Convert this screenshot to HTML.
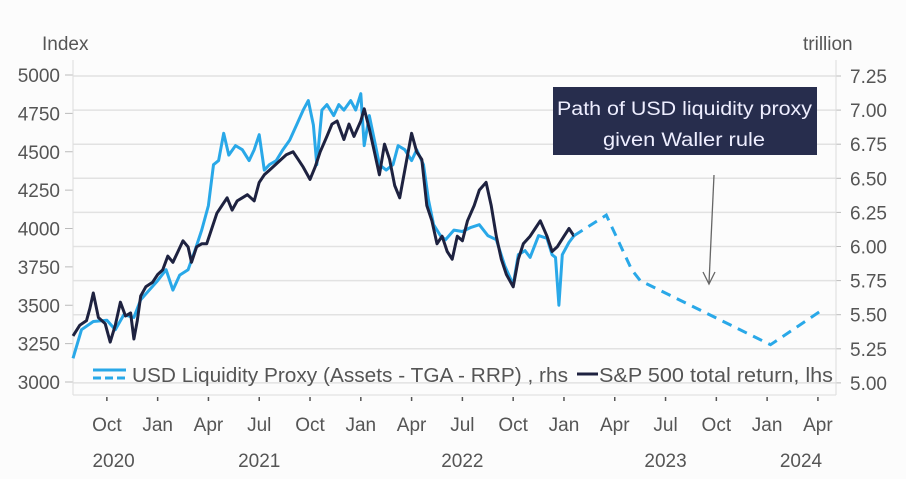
<!DOCTYPE html>
<html><head><meta charset="utf-8"><style>
body{margin:0;background:#fdfdfd;}
svg{display:block;font-family:"Liberation Sans",sans-serif;}
</style></head><body>
<svg id="c" width="906" height="479">
<rect x="0" y="0" width="906" height="479" fill="#fcfcfc"/>
<g id="grid"></g><g id="axes"></g><g id="series"></g>
<text x="42" y="50" font-size="19" fill="#555">Index</text>
<text x="803" y="50" font-size="19" fill="#555">trillion</text>
<g>
<rect x="553" y="87" width="264" height="68" fill="#272d4d"/>
<text x="557" y="115" font-size="19" fill="#eef" textLength="255" lengthAdjust="spacingAndGlyphs">Path of USD liquidity proxy</text>
<text x="603" y="146" font-size="19" fill="#eef" textLength="162" lengthAdjust="spacingAndGlyphs">given Waller rule</text>
<line x1="714" y1="175" x2="709" y2="283" stroke="#666" stroke-width="1.3"/>
<polyline points="703,272 709,284 715,272" fill="none" stroke="#666" stroke-width="1.3"/>
</g>
<g>
<line x1="93" y1="370" x2="126" y2="370" stroke="#29a8e8" stroke-width="3"/>
<line x1="93" y1="378" x2="126" y2="378" stroke="#29a8e8" stroke-width="3" stroke-dasharray="8,4"/>
<text x="132" y="382" font-size="20" fill="#555" textLength="436" lengthAdjust="spacingAndGlyphs">USD Liquidity Proxy (Assets - TGA - RRP) , rhs</text>
<line x1="577" y1="374" x2="598" y2="374" stroke="#1e2240" stroke-width="3"/>
<text x="599" y="382" font-size="20" fill="#555" textLength="234" lengthAdjust="spacingAndGlyphs">S&amp;P 500 total return, lhs</text>
</g>
</svg>
<script>
const leftTicks=[5000,4750,4500,4250,4000,3750,3500,3250,3000];
const rightTicks=["7.25","7.00","6.75","6.50","6.25","6.00","5.75","5.50","5.25","5.00"];
const monthLabels=["Oct","Jan","Apr","Jul","Oct","Jan","Apr","Jul","Oct","Jan","Apr","Jul","Oct","Jan","Apr"];
const monthTickPos=[2,5,8,11,14,17,20,23,26,29,32,35,38,41,44];
const yearLabels=["2020","2021","2022","2023","2024"];
const yearPos=[2.4,11,23,35,43];
const spMonths=[0,0.4,0.8,1.0,1.2,1.5,1.9,2.2,2.5,2.8,3.1,3.4,3.6,3.8,4.0,4.3,4.7,5.0,5.3,5.6,5.9,6.2,6.5,6.8,7.0,7.3,7.6,7.9,8.2,8.5,8.8,9.1,9.4,9.7,10.0,10.3,10.7,11.0,11.3,11.6,12.0,12.3,12.6,13.0,13.3,13.6,14.0,14.3,14.6,15.0,15.3,15.6,16.0,16.3,16.6,17.0,17.2,17.5,17.8,18.1,18.4,18.7,19.0,19.3,19.6,20.0,20.3,20.6,20.9,21.2,21.5,21.8,22.1,22.4,22.7,23.0,23.3,23.7,24.0,24.4,24.7,25.0,25.3,25.6,26.0,26.3,26.6,27.0,27.3,27.6,28.0,28.3,28.6,29.0,29.3,29.6];
const spValues=[3300,3370,3400,3480,3580,3420,3380,3260,3370,3520,3430,3450,3280,3400,3560,3620,3650,3700,3730,3820,3780,3850,3920,3880,3780,3880,3900,3900,4000,4100,4150,4200,4120,4180,4200,4220,4180,4300,4350,4380,4420,4450,4480,4500,4450,4400,4320,4400,4500,4600,4680,4700,4580,4680,4600,4700,4780,4650,4500,4350,4550,4450,4280,4200,4380,4620,4500,4450,4150,4050,3900,3950,3850,3800,3950,3920,4050,4150,4250,4300,4150,3950,3800,3700,3620,3800,3900,3950,4000,4050,3950,3850,3880,3950,4000,3950];
const liqMonths=[0,0.5,1.2,2,2.5,3,3.6,4,4.5,5,5.5,5.9,6.3,6.8,7.2,7.6,8,8.3,8.6,8.9,9.2,9.6,10,10.4,10.7,11,11.3,11.6,12,12.4,12.8,13.2,13.6,13.9,14.2,14.4,14.7,15,15.4,15.7,16,16.4,16.7,17,17.2,17.5,17.8,18.1,18.5,18.9,19.2,19.6,20,20.3,20.7,21,21.3,21.7,22,22.5,23,23.5,24,24.5,25,25.5,26,26.3,26.7,27,27.5,28,28.3,28.5,28.7,28.9,29.3,29.6];
const liqValues=[5.18,5.39,5.45,5.46,5.39,5.50,5.48,5.61,5.68,5.75,5.83,5.68,5.79,5.83,5.97,6.12,6.30,6.60,6.63,6.83,6.67,6.74,6.71,6.63,6.71,6.82,6.56,6.60,6.63,6.71,6.78,6.89,7.00,7.07,6.89,6.60,7.00,7.04,6.96,7.04,7.00,7.07,7.00,7.12,6.74,6.96,6.78,6.60,6.56,6.60,6.74,6.71,6.63,6.71,6.60,6.34,6.16,6.08,6.05,6.12,6.11,6.14,6.16,6.08,6.05,5.86,5.72,5.94,5.97,5.92,6.08,6.06,5.94,5.92,5.57,5.94,6.03,6.08];
const projMonths=[29.6,31.5,33,33.5,41.2,44.2];
const projValues=[6.08,6.23,5.83,5.75,5.28,5.53];

const NS="http://www.w3.org/2000/svg";
const X0=73,MW=16.93,PR=836,PB=395;
const xS=m=>X0+m*MW;
const yL=v=>75+(5000-v)*0.1535;
const yR=v=>76+(7.25-v)*136.4;
function mk(tag,attrs,parent,txt){const e=document.createElementNS(NS,tag);for(const k in attrs)e.setAttribute(k,attrs[k]);if(txt!==undefined)e.textContent=txt;parent.appendChild(e);return e;}
const grid=document.getElementById('grid'),axes=document.getElementById('axes'),ser=document.getElementById('series');
rightTicks.forEach((t,i)=>{const y=yR(+t);
 const g=mk('line',{x1:X0,x2:PR,y1:y,y2:y,stroke:'#e2e2e2','stroke-width':1.5},grid);
 
 
 const tx=mk('text',{x:850,y:y+7,'font-size':19,fill:'#555'},axes,t);
 
 
 const tk=mk('line',{x1:PR,x2:PR+5,y1:y,y2:y,stroke:'#bbb'},axes);
 
 });
leftTicks.forEach(v=>{const y=yL(v);
 const tx=mk('text',{x:60,y:y+7,'font-size':19,fill:'#555','text-anchor':'end'},axes,v);
 
 
 const tk=mk('line',{x1:65,x2:X0,y1:y,y2:y,stroke:'#bbb'},axes);
 
 });
let a=mk('line',{x1:X0,x2:X0,y1:60,y2:PB,stroke:'#ddd'},axes);


a=mk('line',{x1:PR,x2:PR,y1:60,y2:PB,stroke:'#ddd'},axes);


a=mk('line',{x1:X0,x2:PR,y1:PB,y2:PB,stroke:'#ddd'},axes);


monthLabels.forEach((l,i)=>{const x=xS(monthTickPos[i]);
 const tk=mk('line',{x1:x,x2:x,y1:PB+2,y2:PB+6,stroke:'#555','stroke-width':1.5},axes);
 
 
 const tx=mk('text',{x:x,y:431,'font-size':19,fill:'#555','text-anchor':'middle'},axes,l);
 
 });
yearLabels.forEach((l,i)=>{
 const tx=mk('text',{x:xS(yearPos[i]),y:467,'font-size':19,fill:'#555','text-anchor':'middle'},axes,l);
 
 });
const pts=(ms,vs,f)=>ms.map((m,i)=>xS(m).toFixed(1)+','+f(vs[i]).toFixed(1)).join(' ');
let p=mk('polyline',{points:pts(liqMonths,liqValues,yR),fill:'none',stroke:'#29a8e8','stroke-width':3,'stroke-linejoin':'round'},ser);


p=mk('polyline',{points:pts(spMonths,spValues,yL),fill:'none',stroke:'#1e2240','stroke-width':3,'stroke-linejoin':'round'},ser);


p=mk('polyline',{points:pts(projMonths,projValues,yR),fill:'none',stroke:'#29a8e8','stroke-width':3,'stroke-dasharray':'10,7'},ser);


</script>
</body></html>
